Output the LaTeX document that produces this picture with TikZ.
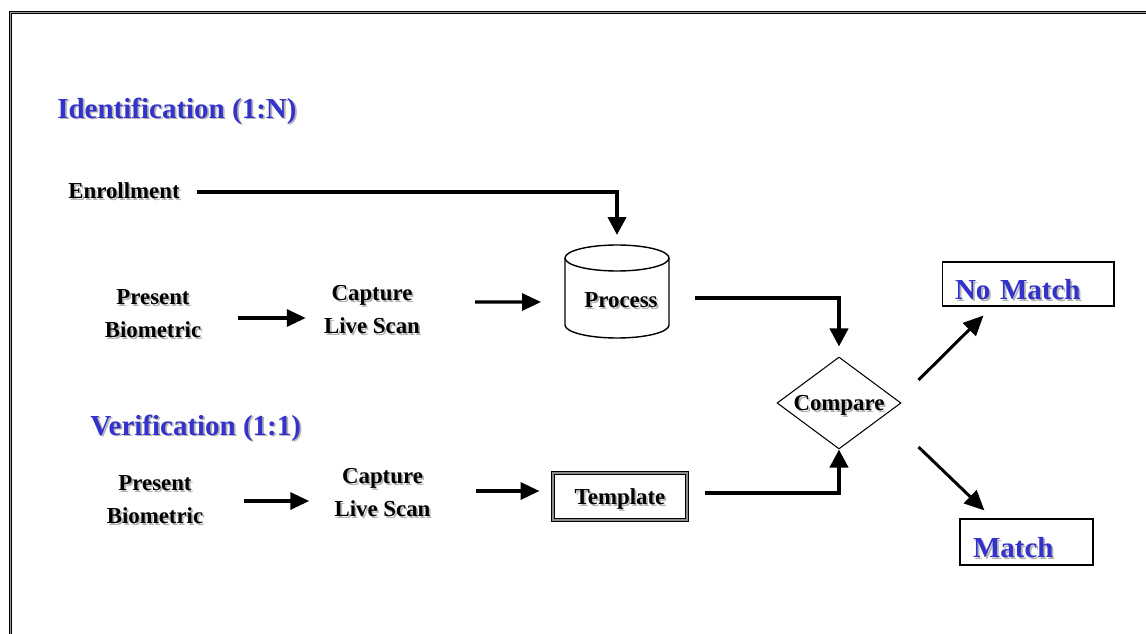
\documentclass[tikz,border=0pt]{standalone}
\usepackage{fontspec}
\setmainfont{Liberation Serif}
\usetikzlibrary{arrows.meta,shapes.geometric,shadows}
\definecolor{headblue}{RGB}{51,51,204}
\definecolor{shadowgray}{RGB}{180,180,180}
\newcommand\sh[1]{\rlap{\kern0.035cm\raisebox{-0.035cm}{\textcolor{shadowgray}{#1}}}#1}
\tikzset{
  lbl/.style={font=\fontsize{13}{18.8}\selectfont\bfseries, align=center, inner sep=0pt},
  head/.style={font=\fontsize{16.5}{20}\selectfont\bfseries, text=headblue, anchor=west, inner sep=0pt},
  resbox/.style={draw, line width=0.6pt, inner xsep=0.26cm, inner ysep=0pt, align=left,
    font=\fontsize{16.5}{20}\selectfont\bfseries, text=headblue},
  flow/.style={line width=2.3pt, -{Triangle[length=0.36cm,width=0.36cm]}},
  arr/.style={line width=1.9pt, -{Triangle[length=0.38cm,width=0.34cm]}},
  diag/.style={line width=1.7pt, -{Triangle[length=0.4cm,width=0.36cm]}},
  frame/.style={line width=0.025cm, double=black!40, double distance=0.025cm}
}
\begin{document}
\begin{tikzpicture}[x=0.02cm,y=0.02cm]
\useasboundingbox (0,0) rectangle (1146,633);
\clip (0,0) rectangle (1146,633);
\draw[frame] (10.5,620.5) rectangle (1180,-30);

\node[head] (ident) at (57,521) {\sh{Identification (1:N)}};
\node[head] (verif) at (90,204) {\sh{Verification (1:1)}};

\node[lbl, anchor=west] (enroll) at (68,441) {\sh{Enrollment}};
\node[lbl] (pres1) at (153,318.5) {\sh{Present}\\\sh{Biometric}};
\node[lbl] (cap1) at (372,322.5) {\sh{Capture}\\\sh{Live Scan}};
\node[lbl] (pres2) at (155,132.5) {\sh{Present}\\\sh{Biometric}};
\node[lbl] (cap2) at (382.5,139.5) {\sh{Capture}\\\sh{Live Scan}};

% database
\draw[line width=0.8pt] (565,375) -- (565,308) arc[start angle=180, end angle=360, x radius=52, y radius=13] -- (669,375);
\draw[line width=0.8pt] (617,375) ellipse [x radius=52, y radius=13];
\node[lbl] (process) at (621,332) {\sh{Process}};
\coordinate (dbtop) at (617,388);
\coordinate (dbleft) at (565,331);

\node[lbl, draw, fill=white, line width=0.02cm, double=black!45, double distance=0.025cm,
  minimum width=2.68cm, minimum height=0.94cm, text depth=0pt,
  drop shadow={shadow xshift=0.04cm, shadow yshift=-0.04cm, fill=black, opacity=1}]
  (template) at (620,136.5) {\sh{Template}};

\node[lbl, diamond, draw, line width=0.6pt, aspect=1.35, minimum width=2.48cm, minimum height=1.84cm, text depth=0pt]
  (compare) at (839,230) {\sh{Compare}};

\node[resbox, text width=2.92cm, text height=0.75cm, text depth=0.13cm] (nomatch) at (1028,349) {\sh{No Match}};
\node[resbox, text width=2.14cm, text height=0.77cm, text depth=0.15cm] (match) at (1026.5,91) {\sh{Match}};

\draw[flow, shorten >=0.2cm] ([xshift=0.34cm]enroll.east) -| (dbtop);
\draw[arr, shorten <=0.73cm, shorten >=0.36cm] ([yshift=-0.07cm]pres1.east) -- ([yshift=-0.07cm]pres1.east -| cap1.west);
\draw[arr, shorten <=1.095cm, shorten >=0.48cm] ([yshift=0.17cm]cap1.east) -- (dbleft);
\draw[arr, shorten <=0.81cm, shorten >=0.5cm] ([yshift=-0.01cm]pres2.east) -- ([yshift=-0.01cm]pres2.east -| cap2.west);
\draw[arr, shorten <=0.9cm, shorten >=0.26cm] ([yshift=0.05cm]cap2.east) -- ([yshift=0.05cm]cap2.east -| template.west);
\draw[flow, shorten >=0.2cm] ([xshift=0.74cm,yshift=0.06cm]process.east) -| (compare.north);
\draw[flow] ([xshift=0.36cm,yshift=0.07cm]template.east) -| (compare.south);
\draw[diag] ([shift={(17,23)}]compare.east) -- ([shift={(42,-9)}]nomatch.south west);
\draw[diag] ([shift={(17,-44)}]compare.east) -- ([shift={(25,8)}]match.north west);
\end{tikzpicture}
\end{document}
